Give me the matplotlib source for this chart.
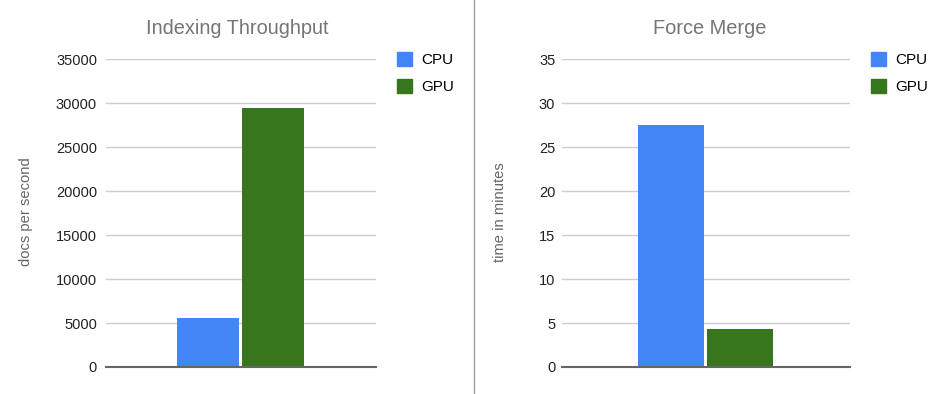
import matplotlib
matplotlib.use("Agg")
import matplotlib.pyplot as plt
from matplotlib.patches import Patch
from matplotlib.lines import Line2D

plt.rcParams['font.family'] = ['Liberation Sans', 'DejaVu Sans']

series = ['CPU', 'GPU']
colors = ['#4285F4', '#38761D']

throughput = [5550, 29500]
throughput_ticks = [0, 5000, 10000, 15000, 20000, 25000, 30000, 35000]

merge_minutes = [27.5, 4.3]
merge_ticks = [0, 5, 10, 15, 20, 25, 30, 35]

W, H = 948, 394
fig = plt.figure(figsize=(W / 100, H / 100), dpi=100)


def panel(left, right, values, ticks, title, ylabel, title_x, ylabel_x, legend_x, tickpad):
    top, bottom = 59.3, 367
    ax = fig.add_axes([left / W, (H - bottom) / H, (right - left) / W, (bottom - top) / H])
    ax.bar(range(len(values)), values, width=0.96, color=colors, zorder=3)
    ax.set_xlim(-1.57, 2.59)
    ax.set_ylim(0, ticks[-1])
    ax.set_yticks(ticks)
    ax.set_yticklabels([str(t) for t in ticks])
    ax.set_xticks([])
    # pad is in points
    ax.tick_params(axis='y', length=0, pad=tickpad * 0.72, labelsize=10.5, labelcolor='#222222')
    ax.grid(axis='y', color='#cccccc', lw=1, zorder=0)
    for s in ['top', 'right', 'left']:
        ax.spines[s].set_visible(False)
    ax.spines['bottom'].set_color('#666666')
    ax.spines['bottom'].set_linewidth(1.5)
    ax.spines['bottom'].set_zorder(4)
    fig.text(title_x / W, 1 - 29 / H, title, ha='center', va='center',
             fontsize=14.4, color='#757575')
    fig.text(ylabel_x / W, 1 - 212 / H, ylabel, ha='center', va='center',
             rotation=90, fontsize=10.6, color='#666666')
    handles = [Patch(color=c) for c in colors]
    fig.legend(handles, series, loc='upper left',
               bbox_to_anchor=(legend_x / W, 1 - 52 / H), frameon=False,
               fontsize=11, handlelength=1.0, handleheight=1.0,
               handletextpad=0.6, labelspacing=0.8, borderpad=0, borderaxespad=0)
    return ax


panel(106, 376, throughput, throughput_ticks, 'Indexing Throughput', 'docs per second',
      237, 26, 397, 9)
panel(562.3, 850, merge_minutes, merge_ticks, 'Force Merge', 'time in minutes',
      710, 500, 871, 7)

fig.add_artist(Line2D([474 / W, 474 / W], [0, 1], color='#9e9e9e', lw=1))

fig.savefig('out.png', dpi=100)
